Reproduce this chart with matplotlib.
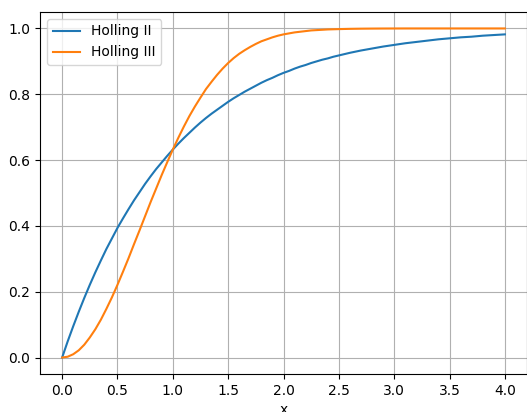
import matplotlib
matplotlib.use("Agg")
from matplotlib import pyplot as plt

# values
x = [0.0, 0.05, 0.1, 0.15, 0.2, 0.25, 0.3, 0.35, 0.4, 0.45,
     0.5, 0.55, 0.6, 0.65, 0.7, 0.75, 0.8, 0.85, 0.9, 0.95,
     1.0, 1.05, 1.1, 1.15, 1.2, 1.25, 1.3, 1.35, 1.4, 1.45,
     1.5, 1.55, 1.6, 1.65, 1.7, 1.75, 1.8, 1.85, 1.9, 1.95,
     2.0, 2.05, 2.1, 2.15, 2.2, 2.25, 2.3, 2.35, 2.4, 2.45,
     2.5, 2.6, 2.7, 2.8, 2.9, 3.0, 3.1, 3.2, 3.3, 3.4,
     3.5, 3.6, 3.7, 3.8, 3.9, 4.0]
holling2 = [0.0, 0.049, 0.095, 0.139, 0.181, 0.221, 0.259, 0.295, 0.330, 0.362,
            0.394, 0.423, 0.451, 0.478, 0.503, 0.528, 0.551, 0.573, 0.593, 0.613,
            0.632, 0.650, 0.667, 0.683, 0.699, 0.714, 0.728, 0.741, 0.753, 0.765,
            0.777, 0.788, 0.798, 0.808, 0.817, 0.826, 0.835, 0.843, 0.850, 0.858,
            0.865, 0.871, 0.878, 0.884, 0.889, 0.895, 0.900, 0.905, 0.909, 0.914,
            0.918, 0.926, 0.933, 0.939, 0.945, 0.950, 0.955, 0.959, 0.963, 0.967,
            0.970, 0.973, 0.975, 0.978, 0.980, 0.982]
holling3 = [0.0, 0.0025, 0.010, 0.022, 0.039, 0.061, 0.086, 0.115, 0.148, 0.183,
            0.221, 0.261, 0.302, 0.345, 0.387, 0.430, 0.473, 0.514, 0.555, 0.594,
            0.632, 0.668, 0.702, 0.734, 0.763, 0.790, 0.816, 0.838, 0.859, 0.878,
            0.895, 0.910, 0.923, 0.934, 0.944, 0.953, 0.961, 0.967, 0.973, 0.978,
            0.982, 0.985, 0.988, 0.990, 0.992, 0.994, 0.995, 0.996, 0.997, 0.9975,
            0.998, 0.9988, 0.9993, 0.9996, 0.9998, 0.9999, 1.0, 1.0, 1.0, 1.0,
            1.0, 1.0, 1.0, 1.0, 1.0, 1.0]

fig = plt.figure(figsize=(5.27, 4.12), dpi=100)
ax = fig.add_axes([40 / 527, 38 / 412, 487 / 527, 362 / 412])
ax.plot(x, holling2, label="Holling II")
ax.plot(x, holling3, label="Holling III")
ax.set_xlim(-0.2, 4.2)
ax.set_xticks([0.0, 0.5, 1.0, 1.5, 2.0, 2.5, 3.0, 3.5, 4.0])
ax.set_xlabel("x")
ax.grid(True)
ax.legend(loc="upper left")
fig.savefig("out.png")
